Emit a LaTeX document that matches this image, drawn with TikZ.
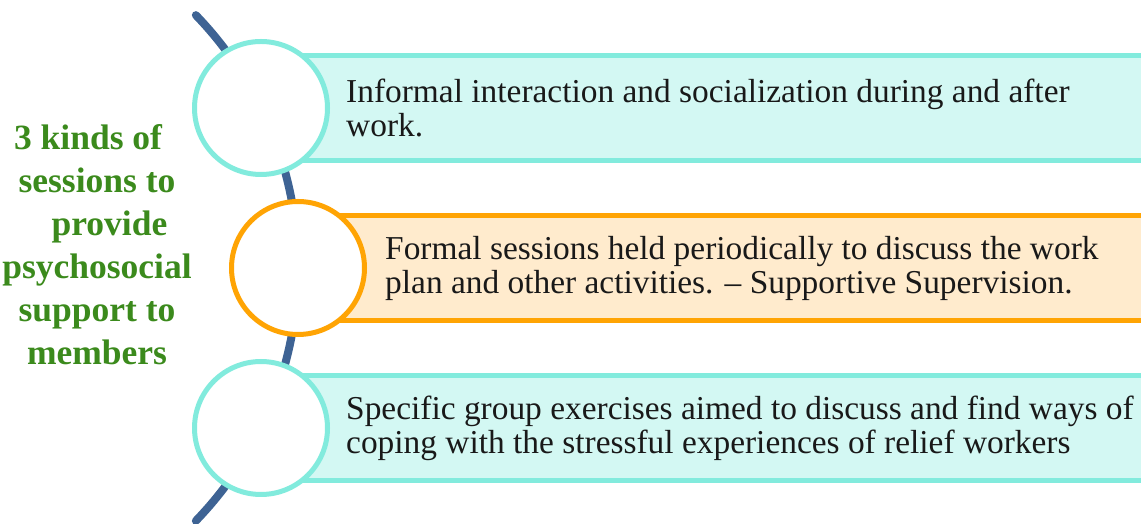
\documentclass[tikz,border=0pt]{standalone}
\usepackage{fontspec}
\setmainfont{Liberation Serif}
\definecolor{arcblue}{HTML}{3E6394}
\definecolor{tealline}{HTML}{82EBDD}
\definecolor{tealfill}{HTML}{D3F8F3}
\definecolor{orangeline}{HTML}{FFA404}
\definecolor{orangefill}{HTML}{FFEBCD}
\definecolor{titlegreen}{HTML}{3B8A1C}
\begin{document}
\begin{tikzpicture}[x=1pt, y=1pt,
		bar/.style={draw, line width=5pt, minimum width=900pt, minimum height=105pt, anchor=west, inner sep=0pt},
		ring/.style={circle, draw, fill=white, line width=5pt, minimum size=133pt, inner sep=0pt},
		itemtext/.style={anchor=west, align=left, inner sep=0pt, text=black!90, font=\fontsize{33.4}{34}\selectfont},
		title/.style={align=center, inner sep=0pt, text=titlegreen, font=\bfseries\fontsize{35.5}{43}\selectfont}]
		\useasboundingbox (0,0) rectangle (1141,524);
		% backbone arc
		\coordinate (hub) at (-66,256);
		\draw[arcblue, line width=8pt, line cap=round] (hub) ++(44:364) arc[start angle=44, end angle=-44, radius=364];
		% bars
		\node[bar, draw=tealline, fill=tealfill] (Bar informal) at (261,416) {};
		\node[bar, draw=orangeline, fill=orangefill] (Bar formal) at (298,256) {};
		\node[bar, draw=tealline, fill=tealfill] (Bar specific) at (261,96) {};
		% rings
		\node[ring, draw=tealline] (Ring informal) at (261,416) {};
		\node[ring, draw=orangeline] (Ring formal) at (298,256) {};
		\node[ring, draw=tealline] (Ring specific) at (261,96) {};
		% texts
		\node[itemtext] (Informal) at (346,416) {Informal interaction and socialization during and after\\work.};
		\node[itemtext] (Formal) at (385,256) {Formal sessions held periodically to discuss the work\\plan and other activities. – Supportive Supervision.};
		\node[itemtext] (Specific) at (346,96) {Specific group exercises aimed to discuss and find ways of\\coping with the stressful experiences of relief workers};
		\node[title] (Kinds) at (97,279) {3 kinds of\hspace*{0.5em}\\sessions to\\\hspace*{0.7em}provide\\psychosocial\\support to\\members};
	\end{tikzpicture}
\end{document}
